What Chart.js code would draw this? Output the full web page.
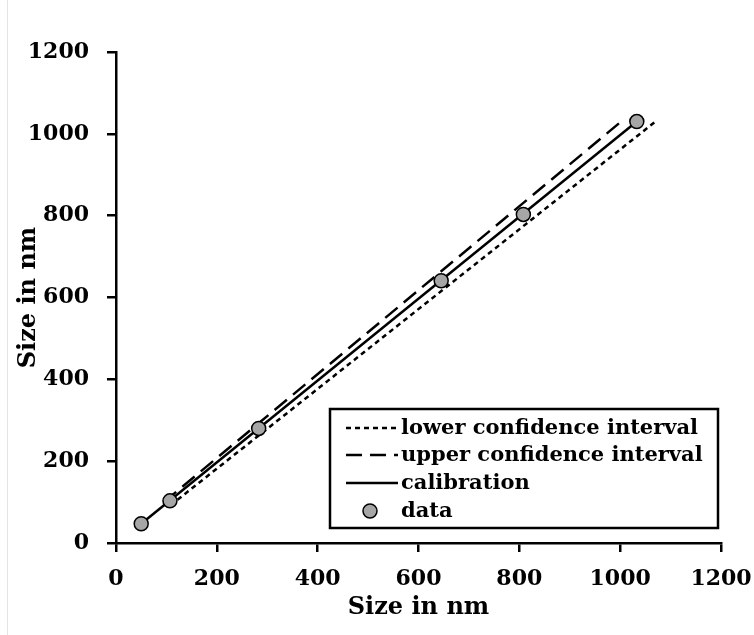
<!DOCTYPE html>
<html>
<head>
<meta charset="utf-8">
<script src="https://cdn.jsdelivr.net/npm/chart.js@4"></script>
<style>
  html, body { margin: 0; padding: 0; background: #fff; }
  #wrap { position: relative; width: 754px; height: 635px; }
  #edge { position: absolute; left: 7px; top: 0; width: 1px; height: 635px; background: #e3e3e3; }
</style>
</head>
<body>
<div id="wrap">
  <canvas id="grafico" width="754" height="635"></canvas>
  <div id="edge"></div>
</div>
<script>
// measured sizes (x) vs calibrated sizes (y), nm
const dataX = [50, 107, 283, 645, 808, 1033];
const dataY = [47, 103, 280, 641, 803, 1030];

// calibration line and confidence interval end points
const calibX = [50, 1033];
const calibY = [47, 1030];
const lowerX = [108, 1068];
const lowerY = [92, 1028];
const upperX = [95, 1000];
const upperY = [100, 1028];

const ticks = [0, 200, 400, 600, 800, 1000, 1200];

const fuente = 'DejaVu Serif';

function puntos(xs, ys) {
    return xs.map((x, i) => ({ x: x, y: ys[i] }));
}

const leyenda = {
    id: 'leyenda',
    afterDraw(chart) {
        const ctx = chart.ctx;
        const box = { left: 330, top: 409, right: 718, bottom: 528 };
        const filas = [428, 455, 483, 511];
        ctx.save();
        ctx.fillStyle = '#fff';
        ctx.fillRect(box.left, box.top, box.right - box.left, box.bottom - box.top);
        ctx.strokeStyle = '#000';
        ctx.lineWidth = 2.5;
        ctx.setLineDash([]);
        ctx.strokeRect(box.left, box.top, box.right - box.left, box.bottom - box.top);

        const orden = [1, 2, 3, 0];
        ctx.font = 'bold 21px "' + fuente + '"';
        ctx.textBaseline = 'middle';
        ctx.textAlign = 'left';
        orden.forEach((idx, r) => {
            const ds = chart.data.datasets[idx];
            const y = filas[r];
            if (ds.showLine) {
                ctx.strokeStyle = ds.borderColor;
                ctx.lineWidth = ds.borderWidth;
                ctx.setLineDash(ds.borderDash || []);
                ctx.beginPath();
                ctx.moveTo(346, y);
                ctx.lineTo(398, y);
                ctx.stroke();
            } else {
                ctx.setLineDash([]);
                ctx.beginPath();
                ctx.arc(370, y, ds.pointRadius, 0, Math.PI * 2);
                ctx.fillStyle = ds.backgroundColor;
                ctx.fill();
                ctx.lineWidth = ds.borderWidth;
                ctx.strokeStyle = ds.borderColor;
                ctx.stroke();
            }
            ctx.fillStyle = '#000';
            ctx.fillText(ds.label, 401, y + 1);
        });
        ctx.restore();
    }
};

const ejeComun = {
    type: 'linear',
    min: 0,
    max: 1200,
    grid: { drawOnChartArea: false, drawTicks: true, tickLength: 9, color: '#000', lineWidth: 2.5 },
    border: { color: '#000', width: 2.5 },
    afterBuildTicks: (scale) => { scale.ticks = ticks.map(v => ({ value: v })); },
    title: {
        display: true,
        text: 'Size in nm',
        color: '#000',
        font: { family: fuente, size: 24, weight: 'bold' },
        padding: { top: 14, bottom: 13 }
    }
};

const ctx = document.getElementById('grafico');
new Chart(ctx, {
    type: 'scatter',
    data: {
        datasets: [
            {
                label: 'data',
                data: puntos(dataX, dataY),
                backgroundColor: '#a6a6a6',
                borderColor: '#000',
                borderWidth: 1.5,
                pointRadius: 7,
                showLine: false,
                order: 0
            },
            {
                label: 'lower confidence interval',
                data: puntos(lowerX, lowerY),
                showLine: true,
                borderColor: '#000',
                borderWidth: 2.5,
                borderDash: [5, 4],
                pointRadius: 0,
                order: 3
            },
            {
                label: 'upper confidence interval',
                data: puntos(upperX, upperY),
                showLine: true,
                borderColor: '#000',
                borderWidth: 2.5,
                borderDash: [16, 8],
                pointRadius: 0,
                order: 2
            },
            {
                label: 'calibration',
                data: puntos(calibX, calibY),
                showLine: true,
                borderColor: '#000',
                borderWidth: 2.5,
                pointRadius: 0,
                order: 1
            }
        ]
    },
    options: {
        responsive: false,
        animation: false,
        layout: { padding: { left: 0, right: 33, top: 52, bottom: 0 } },
        plugins: {
            legend: { display: false },
            tooltip: { enabled: false }
        },
        scales: {
            x: Object.assign({}, ejeComun, {
                position: 'bottom',
                ticks: {
                    color: '#000',
                    padding: 14,
                    maxRotation: 0,
                    callback: (v) => String(v),
                    font: { family: fuente, size: 22, weight: 'bold' }
                },
                afterFit: (scale) => {
                    scale.height = 92;
                    scale.paddingLeft = 0;
                    scale.paddingRight = 0;
                }
            }),
            y: Object.assign({}, ejeComun, {
                position: 'left',
                ticks: {
                    color: '#000',
                    padding: 18,
                    callback: (v) => String(v),
                    font: { family: fuente, size: 22, weight: 'bold' }
                },
                afterFit: (scale) => {
                    scale.width = 116;
                    scale.paddingTop = 0;
                    scale.paddingBottom = 0;
                }
            })
        }
    },
    plugins: [leyenda]
});
</script>
</body>
</html>
